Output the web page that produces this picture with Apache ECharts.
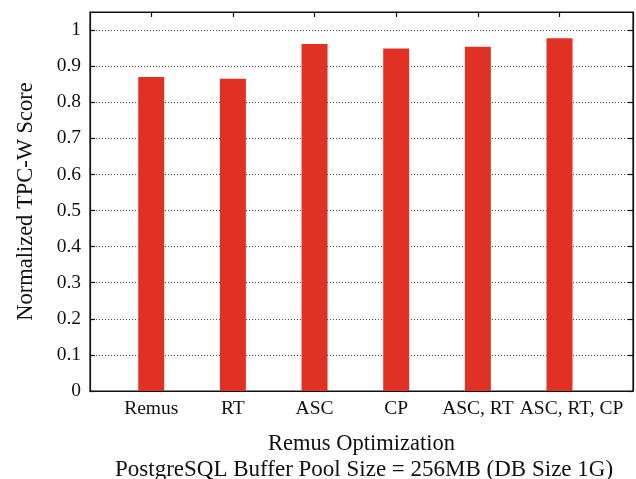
<!DOCTYPE html>
<html><head><meta charset="utf-8">
<script src="https://cdn.jsdelivr.net/npm/echarts@6/dist/echarts.min.js"></script>
<style>html,body{margin:0;padding:0;background:#fff}#c{width:636px;height:479px}</style>
</head><body><div id="c"></div>
<script>
const categories = ['Remus', 'RT', 'ASC', 'CP', 'ASC, RT', 'ASC, RT, CP'];
const scores = [0.870, 0.865, 0.961, 0.949, 0.954, 0.977];
const yTicks = [0, 0.1, 0.2, 0.3, 0.4, 0.5, 0.6, 0.7, 0.8, 0.9, 1];
const xTitle = 'Remus Optimization';
const yTitle = 'Normalized TPC-W Score';
const caption = 'PostgreSQL Buffer Pool Size = 256MB (DB Size 1G)';

const idx = categories.map((_, i) => i);
const font = 'Liberation Serif';
const chart = echarts.init(document.getElementById('c'));
const xCommon = {
  type: 'value', min: -0.75, max: 5.9,
  splitLine: {show: false},
  axisLine: {show: true, onZero: false, lineStyle: {color: '#111', width: 1.2}}
};
const yCommon = {
  type: 'value', min: 0, max: 1.05, interval: 0.1,
  axisLine: {show: true, onZero: false, lineStyle: {color: '#111', width: 1.2}}
};
const tick = {show: true, inside: true, length: 5, lineStyle: {color: '#111', width: 1.2}};
chart.setOption({
  animation: false,
  grid: {left: 90, right: 3, top: 12, bottom: 88, containLabel: false, outerBoundsMode: 'none',
    show: true, borderColor: '#111', borderWidth: 1.2},
  title: {
    text: caption, left: 110, top: 453,
    textStyle: {fontFamily: font, fontSize: 23, fontWeight: 'normal', color: '#111'}
  },
  xAxis: [
    Object.assign({}, xCommon, {
      position: 'bottom',
      name: xTitle, nameLocation: 'middle', nameGap: 42,
      nameTextStyle: {fontFamily: font, fontSize: 22.5, color: '#111'},
      axisTick: Object.assign({customValues: idx}, tick),
      axisLabel: {show: true, customValues: idx, margin: 8, hideOverlap: false,
        showMinLabel: true, showMaxLabel: true,
        fontFamily: font, fontSize: 19.5, color: '#111',
        formatter: v => {
          const i = Math.round(v);
          return i === categories.length - 1 ? '{last|' + categories[i] + '}' : (categories[i] ?? '');
        },
        rich: {last: {fontFamily: font, fontSize: 19.5, color: '#111', padding: [0, 0, 0, 24]}}
      }
    }),
    Object.assign({}, xCommon, {
      position: 'top',
      axisTick: Object.assign({customValues: idx}, tick),
      axisLabel: {show: true, customValues: idx, showMinLabel: true, showMaxLabel: true, color: 'rgba(0,0,0,0)', formatter: () => ''}
    })
  ],
  yAxis: [
    Object.assign({}, yCommon, {
      position: 'left',
      name: yTitle, nameLocation: 'middle', nameGap: 52, nameRotate: 90,
      nameTextStyle: {fontFamily: font, fontSize: 22.5, color: '#111'},
      axisTick: Object.assign({customValues: yTicks}, tick),
      axisLabel: {show: true, customValues: yTicks, margin: 9, fontFamily: font, fontSize: 19.5, color: '#111',
        formatter: v => String(Math.round(v * 10) / 10)},
      splitLine: {show: true, lineStyle: {color: '#444', type: [1, 2], width: 1}}
    }),
    Object.assign({}, yCommon, {
      position: 'right',
      axisTick: Object.assign({customValues: yTicks}, tick),
      axisLabel: {show: true, customValues: yTicks, color: 'rgba(0,0,0,0)', formatter: () => ''},
      splitLine: {show: false}
    })
  ],
  series: [{
    type: 'bar',
    xAxisIndex: 0, yAxisIndex: 0,
    barWidth: 26,
    itemStyle: {color: '#e03124'},
    data: scores.map((v, i) => [idx[i], v])
  }]
});
</script></body></html>
